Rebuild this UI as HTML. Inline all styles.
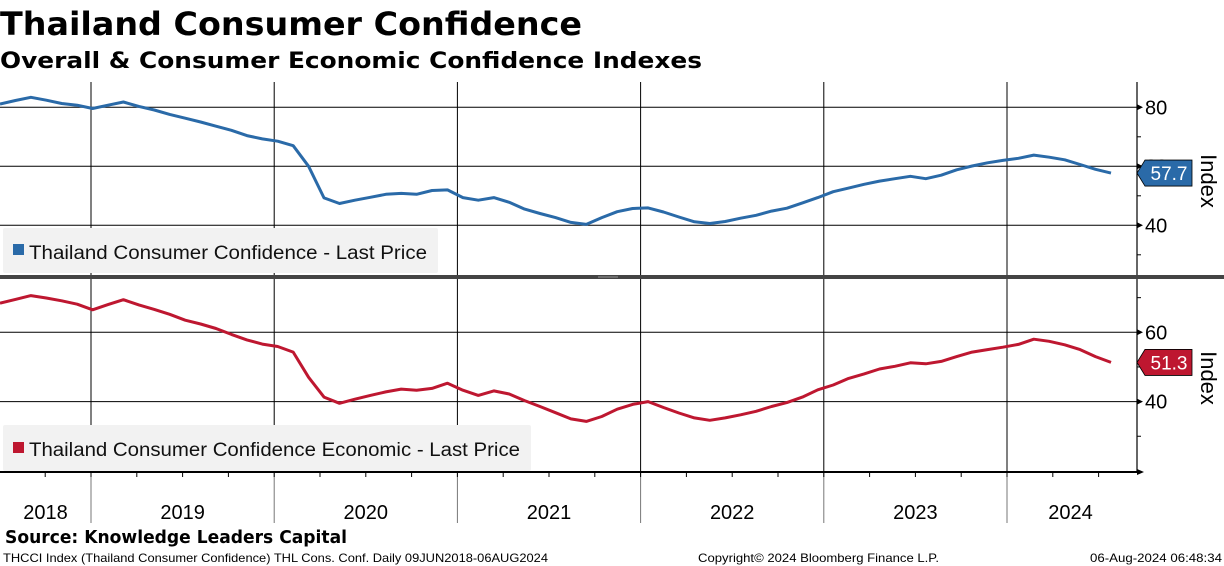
<!DOCTYPE html>
<html><head><meta charset="utf-8"><style>
html,body{margin:0;padding:0;background:#fff;}
svg{display:block;font-family:"DejaVu Sans","Liberation Sans",sans-serif;}
</style></head><body>
<svg id="chart" width="1224" height="566" viewBox="0 0 1224 566" xmlns="http://www.w3.org/2000/svg">
<text x="0" y="35" font-size="32" font-weight="bold" textLength="582" lengthAdjust="spacingAndGlyphs">Thailand Consumer Confidence</text>
<text x="0" y="68" font-size="22" font-weight="bold" textLength="702" lengthAdjust="spacingAndGlyphs">Overall &amp; Consumer Economic Confidence Indexes</text>
<g id="grid"></g>
<rect x="0" y="275" width="1224" height="4" fill="#444"/>
<line x1="598" y1="277" x2="618" y2="277" stroke="#999" stroke-width="1"/>
<g id="legends">
<rect x="3" y="228" width="435" height="45" fill="#f2f2f2" rx="2"/>
<rect x="13" y="244" width="11" height="11" fill="#2a6aa8"/>
<text x="29" y="259" font-size="19" font-family="Liberation Sans, sans-serif" fill="#111" textLength="398" lengthAdjust="spacingAndGlyphs">Thailand Consumer Confidence - Last Price</text>
<rect x="3" y="425" width="528" height="46" fill="#f2f2f2" rx="2"/>
<rect x="13" y="442" width="11" height="11" fill="#be1730"/>
<text x="29" y="456" font-size="19" font-family="Liberation Sans, sans-serif" fill="#111" textLength="491" lengthAdjust="spacingAndGlyphs">Thailand Consumer Confidence Economic - Last Price</text>
</g>
<g id="series"></g>
<g id="axes"></g>
<text x="5" y="543" font-size="18" font-weight="bold" textLength="342" lengthAdjust="spacingAndGlyphs">Source: Knowledge Leaders Capital</text>
<text x="3" y="562" font-size="12" font-family="Liberation Sans, sans-serif" textLength="545" lengthAdjust="spacingAndGlyphs">THCCI Index (Thailand Consumer Confidence) THL Cons. Conf.  Daily 09JUN2018-06AUG2024</text>
<text x="698" y="562" font-size="12" font-family="Liberation Sans, sans-serif" textLength="241" lengthAdjust="spacingAndGlyphs">Copyright© 2024 Bloomberg Finance L.P.</text>
<text x="1090" y="562" font-size="12" font-family="Liberation Sans, sans-serif" textLength="132" lengthAdjust="spacingAndGlyphs">06-Aug-2024 06:48:34</text>
</svg>
<script>
const years = ["2018","2019","2020","2021","2022","2023","2024"];
const overall = [81.1,82.3,83.4,82.4,81.3,80.7,79.6,80.7,81.8,80.3,79.1,77.6,76.3,75.0,73.6,72.2,70.4,69.3,68.5,67.0,60.0,49.3,47.4,48.5,49.5,50.5,50.8,50.5,51.8,52.0,49.4,48.5,49.4,47.8,45.5,44.0,42.6,41.0,40.3,42.6,44.6,45.7,45.9,44.5,42.8,41.2,40.6,41.3,42.4,43.4,44.8,45.8,47.6,49.4,51.4,52.6,53.9,55.0,55.8,56.6,55.8,57.0,58.8,60.1,61.2,62.0,62.7,63.8,63.1,62.2,60.6,59.0,57.7];
const economic = [68.4,69.5,70.6,69.9,69.1,68.1,66.5,68.0,69.4,67.9,66.6,65.2,63.5,62.4,61.1,59.4,57.8,56.6,55.9,54.3,47.0,41.3,39.5,40.7,41.8,42.8,43.6,43.3,43.8,45.3,43.3,41.8,43.1,42.2,40.3,38.6,36.8,35.0,34.3,35.7,37.8,39.2,40.0,38.3,36.7,35.3,34.6,35.3,36.2,37.2,38.6,39.7,41.3,43.4,44.8,46.7,48.0,49.4,50.2,51.2,50.9,51.6,53.0,54.3,55.0,55.7,56.5,58.0,57.4,56.4,55.0,53.0,51.3];
const topTicks = [80,60,40];
const bottomTicks = [60,40];
const NS="http://www.w3.org/2000/svg";
const PR=1137;
function x(i){return i*15.43;}
function yearX(k){return 91+183.2*(k-1);}
function yTop(v){return 107.3+(80-v)*2.95;}
function yBot(v){return 332.3+(60-v)*3.465;}
function mk(tag,attrs,parent){const e=document.createElementNS(NS,tag);for(const k in attrs)e.setAttribute(k,attrs[k]);parent.appendChild(e);return e;}
const grid=document.getElementById('grid'), axes=document.getElementById('axes'), series=document.getElementById('series');
for(let k=1;k<years.length;k++){
  const xx=yearX(k);
  const l=mk('line',{x1:xx,y1:82,x2:xx,y2:275,stroke:'#000','stroke-width':1},grid);
  
  
  const l2=mk('line',{x1:xx,y1:279,x2:xx,y2:472,stroke:'#000','stroke-width':1},grid);
  
  
  const l3=mk('line',{x1:xx,y1:472,x2:xx,y2:523,stroke:'#777','stroke-width':1},grid);
  
  
}
for(let k=0;k<years.length;k++){
  const a=k===0?0:yearX(k); const b=k===years.length-1?1134:yearX(k+1);
  const t=mk('text',{x:(a+b)/2,y:519,'font-size':20,'text-anchor':'middle','font-family':'Liberation Sans, sans-serif'},axes);
  t.textContent=years[k];
  
  
}
for(let q=-2;q<=26;q++){const xx=91+45.8*q; if(xx<0||xx>PR) continue; mk('line',{x1:xx,y1:472,x2:xx,y2:477,stroke:'#000','stroke-width':1},axes);}
topTicks.forEach(v=>{const yy=yTop(v);
  const l=mk('line',{x1:0,y1:yy,x2:PR,y2:yy,stroke:'#000','stroke-width':1},grid);
  
  
  mk('path',{d:`M${PR} ${yy-3}L${PR+6} ${yy}L${PR} ${yy+3}Z`,fill:'#000'},axes);
  const t=mk('text',{x:PR+8,y:yy+7,'font-size':20,'font-family':'Liberation Sans, sans-serif'},axes);
  t.textContent=v;
  
  
});
[70,50,30].forEach(v=>{const yy=yTop(v);mk('line',{x1:PR,y1:yy,x2:PR+4,y2:yy,stroke:'#000'},axes);});
bottomTicks.forEach(v=>{const yy=yBot(v);
  const l=mk('line',{x1:0,y1:yy,x2:PR,y2:yy,stroke:'#000','stroke-width':1},grid);
  
  
  mk('path',{d:`M${PR} ${yy-3}L${PR+6} ${yy}L${PR} ${yy+3}Z`,fill:'#000'},axes);
  const t=mk('text',{x:PR+8,y:yy+7,'font-size':20,'font-family':'Liberation Sans, sans-serif'},axes);
  t.textContent=v;
  
  
});
[70,50,30].forEach(v=>{const yy=yBot(v);mk('line',{x1:PR,y1:yy,x2:PR+4,y2:yy,stroke:'#000'},axes);});
mk('line',{x1:PR,y1:82,x2:PR,y2:275,stroke:'#000','stroke-width':1.2},axes);
mk('line',{x1:PR,y1:279,x2:PR,y2:472,stroke:'#000','stroke-width':1.2},axes);
mk('line',{x1:0,y1:472,x2:PR,y2:472,stroke:'#000','stroke-width':2},axes);
mk('path',{d:`M${PR} 469L${PR+7} 472L${PR} 475Z`,fill:'#000'},axes);
[[181,'y-axis-title-top'],[378,'y-axis-title-bottom']].forEach(([cy,n])=>{
  const t=mk('text',{x:0,y:0,'font-size':22,'text-anchor':'middle','font-family':'Liberation Sans, sans-serif',transform:`translate(1201 ${cy}) rotate(90)`},axes);
  t.textContent='Index';
  
  
});
function line(data,yf,color,name){
  const d=data.map((v,i)=>(i?'L':'M')+x(i).toFixed(1)+' '+yf(v).toFixed(1)).join('');
  const p=mk('path',{d:d,fill:'none',stroke:color,'stroke-width':3,'stroke-linejoin':'round'},series);
  
  
}
line(overall,yTop,'#2a6aa8','series-overall-line');
line(economic,yBot,'#be1730','series-economic-line');
function tag(v,yf,color,name){
  const yy=yf(v);
  const p=mk('path',{d:`M${PR} ${yy}L${PR+8} ${yy-13}L${PR+55} ${yy-13}L${PR+55} ${yy+13}L${PR+8} ${yy+13}Z`,fill:color,stroke:'#000','stroke-width':0.8},axes);
  
  
  const t=mk('text',{x:PR+32,y:yy+7,'font-size':19,'text-anchor':'middle',fill:'#fff','font-family':'Liberation Sans, sans-serif'},axes);
  t.textContent=v.toFixed(1);
  
  
}
tag(overall[overall.length-1],yTop,'#2a6aa8','last-value-tag-overall');
tag(economic[economic.length-1],yBot,'#be1730','last-value-tag-economic');
</script>
</body></html>
